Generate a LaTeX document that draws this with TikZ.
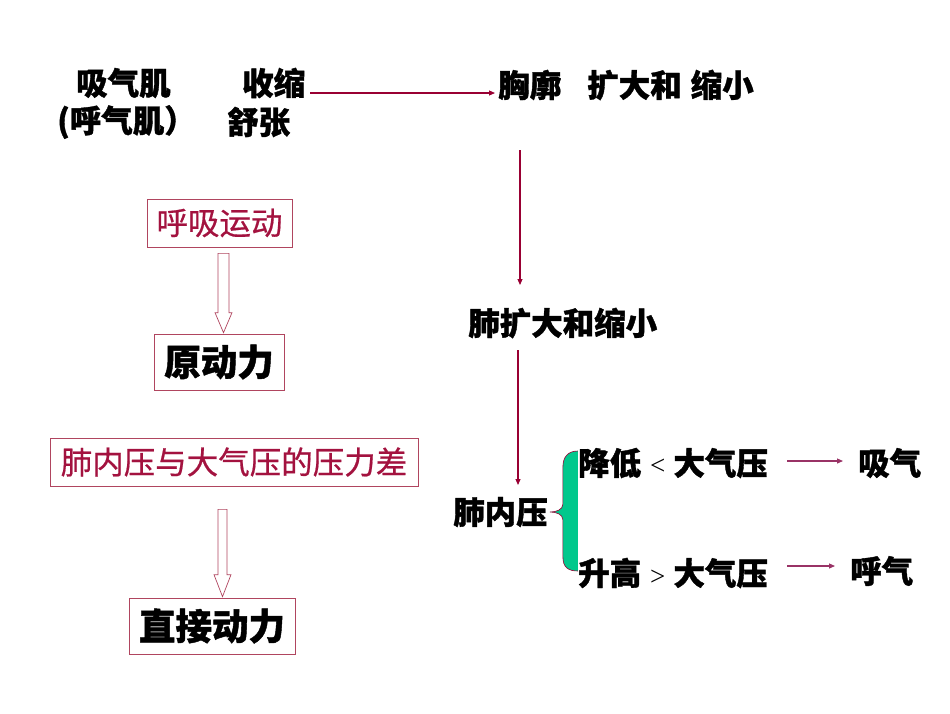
\documentclass[tikz,border=0pt]{standalone}
\usepackage{fontspec}
\usetikzlibrary{arrows.meta,calc}
\newfontfamily\cjk{Noto Sans CJK SC}[BoldFeatures={FakeBold=1.2}]
\newfontfamily\cjkm{Noto Sans CJK SC}[FakeBold=0.6]
\newfontfamily\lat{Liberation Serif}
\definecolor{dred}{HTML}{990033}
\definecolor{tred}{HTML}{A3123F}
\definecolor{boxc}{HTML}{B0455F}
\definecolor{purp}{HTML}{993366}
\definecolor{brgreen}{HTML}{00C88C}
\tikzset{
  bt/.style={inner sep=0pt,anchor=west,font=\cjk\bfseries\fontsize{31.5}{33}\selectfont},
  redbox/.style={draw=boxc,line width=0.7pt,inner sep=0pt,text=tred,font=\cjkm\fontsize{31.5}{33}\selectfont},
  blkbox/.style={draw=boxc,line width=0.7pt,inner sep=0pt,text=black,font=\cjk\bfseries\fontsize{36.5}{38}\selectfont},
  arr/.style={draw=dred,line width=1.1pt,-{Triangle[length=6pt,width=5pt]}},
  sarr/.style={draw=purp,line width=1.1pt,-{Triangle[length=6pt,width=5pt]}},
  harrow/.style={draw=boxc,line width=0.7pt,fill=white},
}
\newcommand{\cmpsym}[1]{{\lat\mdseries\fontsize{27}{28}\selectfont #1}}
\begin{document}
\begin{tikzpicture}[x=1pt,y=-1pt]
\useasboundingbox (0,0) rectangle (950,713);
% top left texts
\node[bt] (xiqiji) at (76,83) {吸气肌};
\node[bt] (huqiji) at (57,122) {(呼气肌）};
\node[bt] (shou) at (242,83) {收缩};
\node[bt] (shu) at (227,122) {舒张};
\node[bt] (chest) at (498,85) {胸廓\hspace{26pt}扩大和\hspace{9pt}缩小};
\node[bt] (lungx) at (468,323) {肺扩大和缩小};
\node[bt] (lungp) at (453,512) {肺内压};
\node[bt] (jiang) at (578,463) {降低\hspace{9pt}\cmpsym{<}\hspace{8pt}大气压};
\node[bt] (sheng) at (578,573) {升高\hspace{9pt}\cmpsym{>}\hspace{8pt}大气压};
\node[bt] (xiqi) at (858,463) {吸气};
\node[bt] (huqi) at (850,571) {呼气};
% boxes
\node[redbox,minimum width=145,minimum height=48] (b1) at (219.5,223) {呼吸运动};
\node[blkbox,minimum width=130,minimum height=56] (b2) at (219,362) {原动力};
\node[redbox,minimum width=368,minimum height=48] (b3) at (234,462) {肺内压与大气压的压力差};
\node[blkbox,minimum width=166,minimum height=56] (b4) at (212,626) {直接动力};
% arrows
\draw[arr] ($(shou.east)+(5,10)$) -- ($(chest.west)+(-3,8)$);
\draw[arr] ($(chest.west)+(22,65)$) -- ($(lungx.west)+(52,-38)$);
\draw[arr] ($(lungx.west)+(50,27)$) -- ($(lungp.west)+(65,-27)$);
\draw[sarr] ($(jiang.east)+(19,-2)$) -- ($(xiqi.west)+(-15,-2)$);
\draw[sarr] ($(sheng.east)+(19,-7)$) -- ($(huqi.west)+(-15,-5)$);
% brace
\coordinate (tip) at ($(lungp.east)+(2,0)$);
\fill[brgreen] ($(tip)+(28,-61)$) .. controls ($(tip)+(18,-61)$) and ($(tip)+(13,-55)$) .. ($(tip)+(13,-45)$)
  -- ($(tip)+(13,-8)$) .. controls ($(tip)+(13,-2)$) and ($(tip)+(6,0)$) .. (tip)
  .. controls ($(tip)+(6,0)$) and ($(tip)+(13,2)$) .. ($(tip)+(13,8)$)
  -- ($(tip)+(13,45)$) .. controls ($(tip)+(13,55)$) and ($(tip)+(18,59)$) .. ($(tip)+(28,59)$) -- cycle;
\draw[dred,line width=0.6pt] ($(tip)+(28,-61)$) .. controls ($(tip)+(18,-61)$) and ($(tip)+(13,-55)$) .. ($(tip)+(13,-45)$)
  -- ($(tip)+(13,-8)$) .. controls ($(tip)+(13,-2)$) and ($(tip)+(6,0)$) .. (tip)
  .. controls ($(tip)+(6,0)$) and ($(tip)+(13,2)$) .. ($(tip)+(13,8)$)
  -- ($(tip)+(13,45)$) .. controls ($(tip)+(13,55)$) and ($(tip)+(18,59)$) .. ($(tip)+(28,59)$);
% hollow arrows
\draw[harrow] ($(b1.south)+(-1.5,6)$) -- ($(b2.north)+(-1,-21)$) -- ($(b2.north)+(-4,-21)$) -- ($(b2.north)+(4.5,-1)$) -- ($(b2.north)+(13,-21)$) -- ($(b2.north)+(10,-21)$) -- ($(b1.south)+(9.5,6)$) -- cycle;
\draw[harrow] ($(b3.south)+(-16,23)$) -- ($(b4.north)+(6,-23)$) -- ($(b4.north)+(2,-23)$) -- ($(b4.north)+(10.5,-1)$) -- ($(b4.north)+(19,-23)$) -- ($(b4.north)+(15,-23)$) -- ($(b3.south)+(-7,23)$) -- cycle;
\end{tikzpicture}
\end{document}
